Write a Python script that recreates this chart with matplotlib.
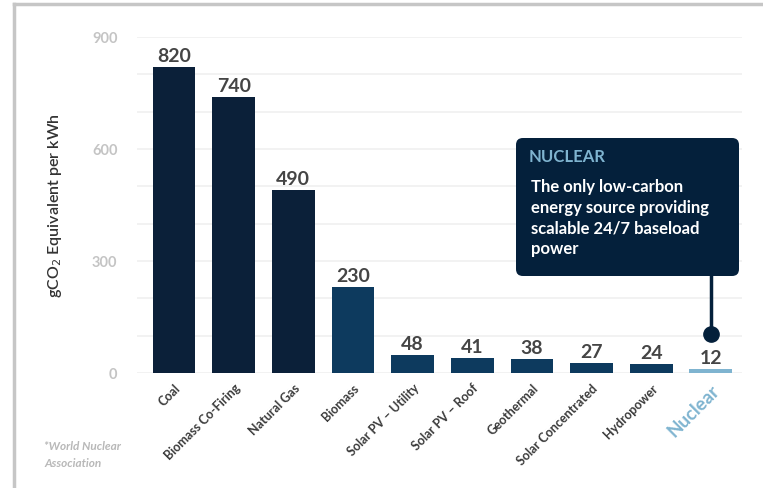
import matplotlib
matplotlib.use('Agg')
import matplotlib.pyplot as plt
from matplotlib.patches import FancyBboxPatch
from matplotlib.lines import Line2D

SOURCES = ['Coal', 'Biomass Co-Firing', 'Natural Gas', 'Biomass', 'Solar PV – Utility',
           'Solar PV – Roof', 'Geothermal', 'Solar Concentrated', 'Hydropower', 'Nuclear']
EMISSIONS = [820, 740, 490, 230, 48, 41, 38, 27, 24, 12]
Y_TICKS = [0, 300, 600, 900]

DARK = '#0b2039'
MID = '#0d3a5e'
LIGHT = '#7fb4d0'
BOX = '#04203b'

colors = [DARK] * 3 + [MID] * 6 + [LIGHT]

plt.rcParams['font.family'] = ['Lato', 'DejaVu Sans']

fig = plt.figure(figsize=(7.63, 4.89), dpi=100)
ax = fig.add_axes([137 / 763, 1 - 374 / 489, (742 - 137) / 763, (374 - 38) / 489])

x = list(range(len(SOURCES)))
ax.bar(x, EMISSIONS, width=0.72, color=colors, zorder=3)
for xi, v in zip(x, EMISSIONS):
    ax.text(xi, v + 8, str(v), ha='center', va='bottom', fontsize=14,
            fontweight='bold', color='#454545', zorder=4)

ax.set_xlim(-0.62, 9.52)
ax.set_ylim(0, 900)
ax.set_yticks(range(0, 901, 100), minor=False)
ax.set_yticklabels([str(t) if t in Y_TICKS else '' for t in range(0, 901, 100)])
ax.grid(axis='y', color='#f0f0f0', linewidth=1.2, zorder=0)
ax.tick_params(axis='y', length=0, pad=14, labelsize=10.5, labelcolor='#c4c4c4')
for lab in ax.get_yticklabels():
    lab.set_fontweight('bold')
ax.tick_params(axis='x', length=0, pad=6)
ax.set_xticks(x)
ax.set_xticklabels(SOURCES, rotation=45, ha='right', rotation_mode='anchor',
                   fontsize=9, fontweight='bold', color='#3a3a3a')
nl = ax.get_xticklabels()[-1]
nl.set_color(LIGHT)
nl.set_fontsize(13.5)
for s in ax.spines.values():
    s.set_visible(False)

ax.set_ylabel('gCO$_2$ Equivalent per kWh', fontsize=11.5, color='#333333',
              fontweight='semibold', labelpad=20)

# frame around the card
fig.add_artist(Line2D([14 / 763, 14 / 763], [0, 1 - 5 / 489], color='#c6c6c6', linewidth=2.5))
fig.add_artist(Line2D([14 / 763, 1], [1 - 5 / 489, 1 - 5 / 489], color='#c6c6c6', linewidth=2.5))

# callout
bx, by, bw, bh = 516 / 763, 1 - 277 / 489, 223 / 763, 138 / 489
box = FancyBboxPatch((bx, by), bw, bh, boxstyle='round,pad=0,rounding_size=0.009',
                     mutation_aspect=763 / 489, transform=fig.transFigure,
                     facecolor=BOX, edgecolor='none', zorder=5)
fig.add_artist(box)
fig.text(529 / 763, 1 - 157 / 489, 'NUCLEAR', fontsize=12, fontweight='bold',
         color=LIGHT, va='center', ha='left', zorder=7)
fig.text(531 / 763, 1 - 179 / 489,
         'The only low-carbon\nenergy source providing\nscalable 24/7 baseload\npower',
         fontsize=12, fontweight='bold', color='white', va='top', ha='left',
         linespacing=1.36, zorder=7)
ax.plot([9, 9], [104, 262], color=BOX, linewidth=2.5, zorder=5, clip_on=False)
ax.plot([9], [104], 'o', color=BOX, markersize=11, zorder=6, clip_on=False)

fig.text(44 / 763, 1 - 455 / 489, '*World Nuclear\nAssociation', fontsize=8.5,
         style='italic', fontweight='bold', color='#b8b8b8', va='center', ha='left',
         linespacing=1.6)

fig.savefig('out.png', dpi=100)
